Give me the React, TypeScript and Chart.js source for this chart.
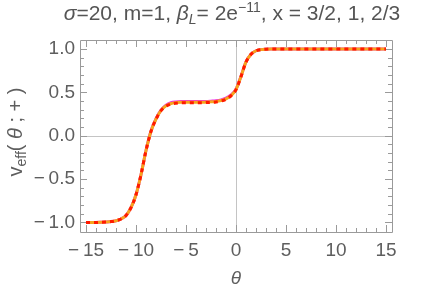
import React, { useEffect, useRef } from "react";
import { Chart, registerables } from "chart.js";

Chart.register(...registerables);

const theta = [
  -15, -14.5, -14, -13.5, -13, -12.5, -12, -11.5, -11, -10.5, -10, -9.5, -9, -8.5, -8, -7.5, -7, -6.5, -6, -5.5,
  -5, -4.5, -4, -3.5, -3, -2.5, -2, -1.5, -1, -0.5, 0, 0.5, 1, 1.5, 2, 2.5, 3, 3.5, 4, 4.5,
  5, 5.5, 6, 6.5, 7, 7.5, 8, 8.5, 9, 9.5, 10, 10.5, 11, 11.5, 12, 12.5, 13, 13.5, 14, 14.5, 15,
];

const vMagenta = [
  -1, -1, -1, -0.998, -0.995, -0.99, -0.98, -0.96, -0.92, -0.83, -0.68, -0.45, -0.17, 0.055, 0.196, 0.296, 0.352, 0.38, 0.39, 0.394,
  0.394, 0.394, 0.394, 0.394, 0.395, 0.399, 0.404, 0.414, 0.433, 0.47, 0.537, 0.687, 0.853, 0.94, 0.98, 0.993, 0.998, 1, 1, 1,
  1, 1, 1, 1, 1, 1, 1, 1, 1, 1, 1, 1, 1, 1, 1, 1, 1, 1, 1, 1, 1,
];

const vOrange = [
  -1, -1, -1, -0.998, -0.995, -0.99, -0.98, -0.96, -0.92, -0.83, -0.68, -0.45, -0.17, 0.052, 0.193, 0.293, 0.346, 0.372, 0.382, 0.386,
  0.386, 0.386, 0.386, 0.386, 0.388, 0.391, 0.396, 0.406, 0.425, 0.463, 0.533, 0.683, 0.851, 0.94, 0.98, 0.993, 0.998, 1, 1, 1,
  1, 1, 1, 1, 1, 1, 1, 1, 1, 1, 1, 1, 1, 1, 1, 1, 1, 1, 1, 1, 1,
];

const vRed = [
  -1, -1, -1, -0.998, -0.995, -0.99, -0.98, -0.96, -0.92, -0.83, -0.68, -0.45, -0.17, 0.05, 0.19, 0.29, 0.34, 0.365, 0.375, 0.38,
  0.38, 0.38, 0.38, 0.38, 0.382, 0.385, 0.39, 0.4, 0.42, 0.46, 0.53, 0.68, 0.85, 0.94, 0.98, 0.993, 0.998, 1, 1, 1,
  1, 1, 1, 1, 1, 1, 1, 1, 1, 1, 1, 1, 1, 1, 1, 1, 1, 1, 1, 1, 1,
];

const xTicks = [-15, -10, -5, 0, 5, 10, 15];
const yTicks = [-1, -0.5, 0, 0.5, 1];

const FONT = "'Liberation Sans', Arial, sans-serif";
const FRAME = "#9a9a9a";
const LABEL = "#5e5e5e";

const fmtMinus = (s: string) => s.replace("-", "\u2212\u2009");

const framePlugin = {
  id: "mmaFrame",
  beforeDatasetsDraw(chart: any) {
    const { ctx, chartArea: a, scales } = chart;
    const xs = scales.x;
    const ys = scales.y;
    ctx.save();
    ctx.strokeStyle = "#c4c4c4";
    ctx.lineWidth = 1;
    const x0 = Math.round(xs.getPixelForValue(0)) + 0.5;
    const y0 = Math.round(ys.getPixelForValue(0)) + 0.5;
    ctx.beginPath();
    ctx.moveTo(x0, a.top);
    ctx.lineTo(x0, a.bottom);
    ctx.moveTo(a.left, y0);
    ctx.lineTo(a.right, y0);
    ctx.stroke();
    ctx.strokeStyle = FRAME;
    ctx.beginPath();
    ctx.rect(Math.round(a.left) + 0.5, Math.round(a.top) + 0.5, Math.round(a.right - a.left), Math.round(a.bottom - a.top));
    ctx.stroke();
    ctx.beginPath();
    for (let i = -15; i <= 15; i++) {
      const len = i % 5 === 0 ? 7 : 4;
      const px = Math.round(xs.getPixelForValue(i)) + 0.5;
      ctx.moveTo(px, a.bottom);
      ctx.lineTo(px, a.bottom - len);
      ctx.moveTo(px, a.top);
      ctx.lineTo(px, a.top + len);
    }
    for (let j = -10; j <= 10; j++) {
      const len = j % 5 === 0 ? 7 : 4;
      const py = Math.round(ys.getPixelForValue(j / 10)) + 0.5;
      ctx.moveTo(a.left, py);
      ctx.lineTo(a.left + len, py);
      ctx.moveTo(a.right, py);
      ctx.lineTo(a.right - len, py);
    }
    ctx.stroke();
    ctx.restore();
  },
  afterDraw(chart: any) {
    const { ctx } = chart;
    ctx.save();
    const size = 21;
    const small = 14;
    const parts: Array<[string, string, number]> = [
      ["\u03c3", `italic ${size}px ${FONT}`, 0],
      ["=20, m=1, ", `${size}px ${FONT}`, 0],
      ["\u03b2", `italic ${size}px ${FONT}`, 0],
      ["L", `italic ${small}px ${FONT}`, 4],
      ["= 2e", `${size}px ${FONT}`, 0],
      ["\u221211", `${small}px ${FONT}`, -8],
      [", x = 3/2, 1, 2/3", `${size}px ${FONT}`, 0],
    ];
    let total = 0;
    for (const [t, f] of parts) {
      ctx.font = f;
      total += ctx.measureText(t).width;
    }
    let x = 232 - total / 2;
    const base = 20;
    ctx.fillStyle = "#555555";
    ctx.textBaseline = "alphabetic";
    ctx.textAlign = "left";
    for (const [t, f, dy] of parts) {
      ctx.font = f;
      ctx.fillText(t, x, base + dy);
      x += ctx.measureText(t).width;
    }
    ctx.translate(22, 132);
    ctx.rotate(-Math.PI / 2);
    const ys = 20;
    const yparts: Array<[string, string, number]> = [
      ["v", `${ys}px ${FONT}`, 0],
      ["eff", `${small}px ${FONT}`, 4],
      ["( ", `${ys}px ${FONT}`, 0],
      ["\u03b8", `italic ${ys}px ${FONT}`, 0],
      [" ; + )", `${ys}px ${FONT}`, 0],
    ];
    total = 0;
    for (const [t, f] of yparts) {
      ctx.font = f;
      total += ctx.measureText(t).width;
    }
    x = -total / 2;
    ctx.fillStyle = LABEL;
    for (const [t, f, dy] of yparts) {
      ctx.font = f;
      ctx.fillText(t, x, dy);
      x += ctx.measureText(t).width;
    }
    ctx.restore();
  },
};

const mk = (vals: number[]) => theta.map((t, i) => ({ x: t, y: vals[i] }));

export default function App() {
  const ref = useRef<HTMLCanvasElement>(null);
  useEffect(() => {
    if (!ref.current) return;
    const chart = new Chart(ref.current, {
      type: "line",
      data: {
        datasets: [
          { data: mk(vRed), borderColor: "#ff1a00", borderWidth: 3, borderDash: [4, 4], pointRadius: 0, cubicInterpolationMode: "monotone" },
          { data: mk(vOrange), borderColor: "#f5a51e", borderWidth: 3, pointRadius: 0, cubicInterpolationMode: "monotone" },
          { data: mk(vMagenta), borderColor: "#ee2ee8", borderWidth: 3, pointRadius: 0, cubicInterpolationMode: "monotone" },
        ],
      },
      options: {
        animation: false,
        responsive: false,
        devicePixelRatio: 1,
        layout: { padding: { left: 0, right: 39, top: 40, bottom: 0 } },
        plugins: { legend: { display: false }, title: { display: false }, tooltip: { enabled: false } },
        scales: {
          x: {
            type: "linear",
            min: -15.6,
            max: 15.6,
            afterBuildTicks: (s: any) => { s.ticks = xTicks.map((v) => ({ value: v })); },
            afterFit: (s: any) => { s.height = 62; },
            grid: { display: false, drawTicks: false },
            border: { display: false },
            ticks: {
              color: LABEL,
              padding: 7,
              maxRotation: 0,
              autoSkip: false,
              font: { family: FONT, size: 19 },
              callback: (v: any) => fmtMinus(String(v)),
            },
            title: { display: true, text: "\u03b8", color: LABEL, font: { family: FONT, size: 19, style: "italic" }, padding: { top: 4 } },
          },
          y: {
            type: "linear",
            min: -1.11,
            max: 1.104,
            afterBuildTicks: (s: any) => { s.ticks = yTicks.map((v) => ({ value: v })); },
            afterFit: (s: any) => { s.width = 80; },
            grid: { display: false, drawTicks: false },
            border: { display: false },
            ticks: {
              color: LABEL,
              padding: 5,
              autoSkip: false,
              font: { family: FONT, size: 19 },
              callback: (v: any) => fmtMinus(Number(v).toFixed(1)),
            },
          },
        },
      },
      plugins: [framePlugin],
    } as any);
    return () => chart.destroy();
  }, []);
  return (
    <div style={{ position: "fixed", left: 0, top: 0, width: 431, height: 294, background: "#fff" }}>
      <canvas ref={ref} width={431} height={294} style={{ width: 431, height: 294, display: "block" }} />
    </div>
  );
}
